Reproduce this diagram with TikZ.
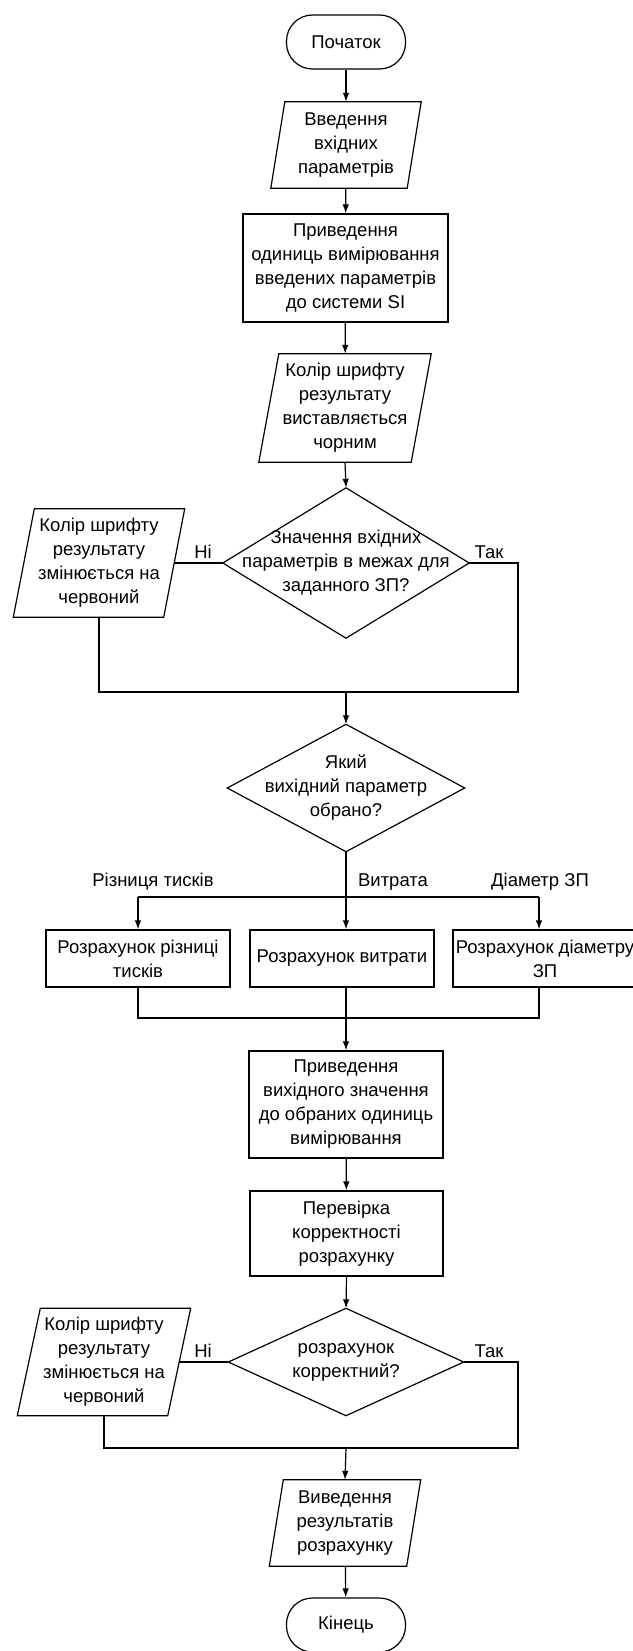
\documentclass[tikz,border=0pt]{standalone}
\usepackage{fontspec}
\setmainfont{Liberation Sans}
\usetikzlibrary{arrows.meta}
\newcommand\iobox[2]{\draw[ln] ([xshift=#2]#1.north west) -- ([xshift=#2]#1.north east) -- ([xshift=-#2]#1.south east) -- ([xshift=-#2]#1.south west) -- cycle;}
\newcommand\diabox[1]{\draw[ln] (#1.north) -- (#1.east) -- (#1.south) -- (#1.west) -- cycle;}
\begin{document}
\begin{tikzpicture}[x=1pt,y=-1pt,
  every node/.style={font=\fontsize{18.5}{24}\selectfont, align=center, inner sep=0pt},
  ln/.style={line width=1.2pt, line join=miter},
  arr/.style={ln, -{Latex[length=9pt,width=6.5pt]}},
  term/.style={draw, line width=1.2pt, rounded corners=26pt, minimum width=119pt, minimum height=54pt},
  proc/.style={draw, line width=1.2pt, rectangle},
  blank/.style={rectangle},
  lbl/.style={font=\fontsize{18.5}{20}\selectfont}
]
\useasboundingbox (0,0) rectangle (632,1651);
\fill[white] (0,0) rectangle (632,1651);

% main column
\node[term] (start) at (346,42) {Початок};
\node[blank, minimum width=136pt, minimum height=86pt] (in1) at (346,145) {Введення\\вхідних\\параметрів};
\iobox{in1}{7pt}
\node[proc, minimum width=205pt, minimum height=108pt] (r1) at (345.5,268) {Приведення\\одиниць вимірювання\\введених параметрів\\до системи SI};
\node[blank, minimum width=152pt, minimum height=108pt] (in2) at (345,408) {Колір шрифту\\результату\\виставляється\\чорним};
\iobox{in2}{10pt}
\node[blank, minimum width=246pt, minimum height=150pt] (d1) at (346,563) {Значення вхідних\\параметрів в межах для\\заданного ЗП?};
\diabox{d1}
\node[blank, minimum width=150pt, minimum height=108pt] (lp1) at (99,563) {Колір шрифту\\результату\\змінюється на\\червоний};
\iobox{lp1}{10.5pt}
\node[lbl] (no1) at (203,552) {Ні};
\node[lbl] (yes1) at (489,552) {Так};

\node[blank, minimum width=237pt, minimum height=127pt] (d2) at (346,788) {Який\\вихідний параметр\\обрано?};
\diabox{d2}

\node[lbl] (lab1) at (153,882) {Різниця тисків};
\node[lbl] (lab2) at (393,882) {Витрата};
\node[lbl] (lab3) at (540,882) {Діаметр ЗП};

\node[proc, minimum width=184pt, minimum height=57pt] (b1) at (138,958.5) {Розрахунок різниці\\тисків};
\node[proc, minimum width=184pt, minimum height=57pt] (b2) at (342,958.5) {Розрахунок витрати};
\node[proc, minimum width=184pt, minimum height=57pt] (b3) at (545,958.5) {Розрахунок діаметру\\ЗП};

\node[proc, minimum width=194pt, minimum height=107pt] (r2) at (346,1104.5) {Приведення\\вихідного значення\\до обраних одиниць\\вимірювання};
\node[proc, minimum width=193pt, minimum height=85pt] (r3) at (346.5,1233.5) {Перевірка\\корректності\\розрахунку};

\node[blank, minimum width=235pt, minimum height=107pt] (d3) at (346,1362) {розрахунок\\корректний?};
\diabox{d3}
\node[blank, minimum width=150pt, minimum height=107pt] (lp2) at (104,1362) {Колір шрифту\\результату\\змінюється на\\червоний};
\iobox{lp2}{11.5pt}
\node[lbl] (no2) at (203,1351) {Ні};
\node[lbl] (yes2) at (489,1351) {Так};

\node[blank, minimum width=137pt, minimum height=86pt] (out) at (345,1523) {Виведення\\результатів\\розрахунку};
\iobox{out}{7pt}
\node[term] (end) at (346,1625) {Кінець};

% coordinates
\coordinate (j1r) at (518,563);
\coordinate (j1rb) at (518,692);
\coordinate (j1m) at (346,692);
\coordinate (j1l) at (99,692);
\coordinate (brl) at (138,897);
\coordinate (brr) at (539,897);
\coordinate (mgl) at (138,1018);
\coordinate (mgr) at (539,1018);
\coordinate (mgm) at (346,1018);
\coordinate (j3r) at (518,1362);
\coordinate (j3rb) at (518,1448);
\coordinate (j3m) at (346,1448);
\coordinate (j3l) at (104,1448);

% connectors
\draw[arr] (start) -- (in1);
\draw[arr] (in1) -- (r1);
\draw[arr] (r1) -- (in2);
\draw[arr] (in2.south) -- (d1.north);
\draw[ln] (d1.west) -- (lp1.east);
\draw[ln] (d1.east) -- (j1r) -- (j1rb) -- (j1l) -- (lp1.south);
\draw[arr] (j1m) -- (d2.north);
\draw[ln] (brl) -- (brr);
\draw[arr] (brl) -- (b1.north);
\draw[arr] (d2.south) -- (d2.south |- b2.north);
\draw[arr] (brr) -- (brr |- b3.north);
\draw[ln] (b1.south) -- (mgl) -- (mgr) -- (mgr |- b3.south);
\draw[ln] (mgm |- b2.south) -- (mgm);
\draw[arr] (mgm) -- (r2.north);
\draw[arr] (r2) -- (r3);
\draw[arr] (r3.south) -- (d3.north);
\draw[ln] (d3.west) -- (lp2.east);
\draw[ln] (d3.east) -- (j3r) -- (j3rb) -- (j3l) -- (lp2.south);
\draw[arr] (j3m) -- (out.north);
\draw[arr] (out) -- (end);
\end{tikzpicture}
\end{document}
